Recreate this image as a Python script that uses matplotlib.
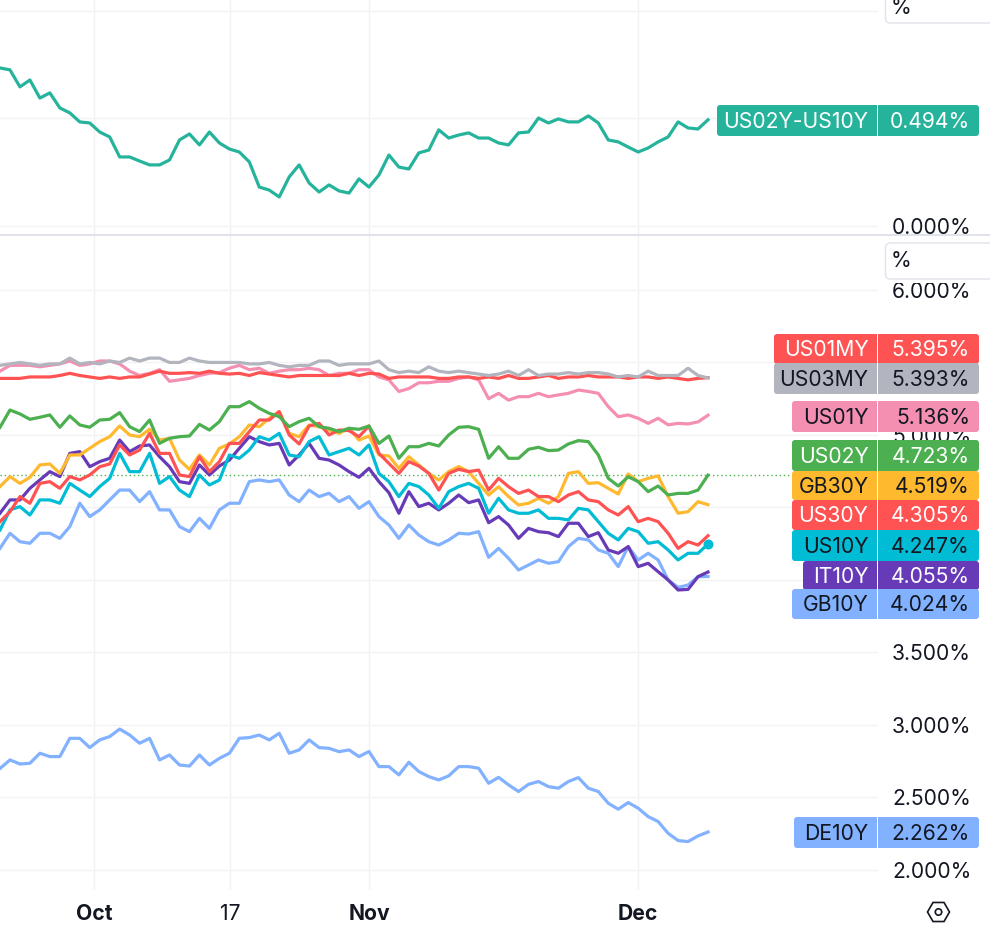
import numpy as np
import matplotlib
matplotlib.use("Agg")
import matplotlib.pyplot as plt
from matplotlib.patches import FancyBboxPatch, Rectangle, RegularPolygon, Circle

plt.rcParams['font.family'] = ['Inter', 'DejaVu Sans']

# Trading sessions since 2 Oct (0); samples run from mid-Sep to early Dec
first_session, last_session = -7.605, 49.676
tick_sessions = [0, 11, 22.25, 44]
tick_labels = ['Oct', '17', 'Nov', 'Dec']
tick_bold = [True, False, True, True]
top_ticks = [0.0, 0.5, 1.0]
top_shown = [0.0]
bottom_ticks = [2.0, 2.5, 3.0, 3.5, 4.0, 4.5, 5.0, 5.5, 6.0]
bottom_shown = [2.0, 2.5, 3.0, 3.5, 5.0, 6.0]   # the others sit behind price badges

SPREAD = [.735,.726,.647,.679,.595,.619,.549,.526,.484,.479,.437,.414,.321,.321,.302,.284,.284,.307,.400,.428,.377,.437,.386,.358,.344,.298,.181,.167,.135,.228,.284,.200,.158,.191,.163,.153,
          .219,.181,.237,.330,.274,.265,.340,.353,.447,.409,.423,.433,.409,.409,.386,.377,.433,.437,.502,.479,.498,.484,.484,.512,.479,.400,.391,.367,.344,.363,.391,.414,.484,.456,.451,.494]

US03MY = [5.48,5.49,5.50,5.49,5.48,5.49,5.49,5.53,5.49,5.50,5.49,5.51,5.50,5.53,5.51,5.53,5.53,5.50,5.50,5.53,5.51,5.50,5.50,5.50,
          5.50,5.49,5.49,5.50,5.48,5.47,5.48,5.48,5.51,5.51,5.48,5.49,5.49,5.49,5.51,5.45,5.43,5.44,5.43,5.47,5.44,5.43,5.44,5.43,
          5.42,5.41,5.42,5.44,5.41,5.45,5.41,5.42,5.42,5.43,5.42,5.43,5.43,5.42,5.40,5.41,5.40,5.44,5.41,5.41,5.41,5.46,5.41,5.393]
US01MY = [5.39,5.39,5.39,5.40,5.40,5.40,5.41,5.425,5.41,5.40,5.39,5.40,5.39,5.40,5.40,5.42,5.44,5.425,5.425,5.43,5.425,5.44,5.425,5.42,
          5.425,5.41,5.43,5.42,5.41,5.40,5.41,5.41,5.41,5.41,5.41,5.425,5.41,5.425,5.42,5.39,5.40,5.40,5.40,5.40,5.39,5.39,5.40,5.40,
          5.39,5.40,5.39,5.41,5.39,5.39,5.40,5.41,5.39,5.40,5.40,5.41,5.40,5.40,5.40,5.39,5.40,5.40,5.39,5.40,5.39,5.38,5.39,5.395]
US01Y = [5.44,5.48,5.48,5.48,5.47,5.48,5.49,5.51,5.48,5.49,5.51,5.51,5.49,5.44,5.41,5.425,5.45,5.37,5.38,5.39,5.41,5.425,5.43,5.46,
         5.48,5.45,5.46,5.425,5.44,5.45,5.45,5.46,5.45,5.41,5.425,5.425,5.45,5.45,5.40,5.38,5.30,5.32,5.36,5.36,5.37,5.37,5.39,5.40,
         5.38,5.25,5.287,5.24,5.264,5.264,5.287,5.264,5.276,5.287,5.31,5.30,5.287,5.195,5.126,5.138,5.115,5.08,5.115,5.07,5.08,5.076,5.09,5.136]
US02Y = [5.053,5.172,5.145,5.108,5.122,5.138,5.053,5.131,5.069,5.053,5.103,5.108,5.154,5.057,5.023,5.103,4.942,4.977,4.988,4.993,5.073,5.034,5.092,5.195,
         5.195,5.23,5.184,5.149,5.126,5.057,5.092,5.115,5.057,5.046,5.023,5.046,5.039,5.062,4.942,4.993,4.839,4.919,4.919,4.942,4.924,5.0,5.053,5.057,
         5.039,4.839,4.919,4.839,4.839,4.901,4.915,4.892,4.896,4.938,4.961,4.954,4.862,4.701,4.648,4.712,4.678,4.609,4.648,4.586,4.597,4.597,4.62,4.723]
GB30Y = [4.644,4.713,4.666,4.708,4.793,4.80,4.735,4.862,4.862,4.908,4.954,4.988,5.062,5.0,4.988,5.039,4.965,4.977,4.827,4.763,4.862,4.793,4.908,4.938,
         4.988,5.069,5.057,5.115,5.161,5.011,4.988,5.069,5.057,5.034,5.011,5.046,4.965,4.993,4.862,4.855,4.77,4.85,4.793,4.735,4.689,4.747,4.782,4.747,
         4.666,4.586,4.643,4.575,4.517,4.529,4.563,4.529,4.575,4.735,4.747,4.666,4.671,4.632,4.593,4.731,4.678,4.701,4.717,4.575,4.46,4.471,4.54,4.519]
US30Y = [4.402,4.471,4.575,4.529,4.666,4.678,4.632,4.713,4.69,4.724,4.781,4.80,4.931,4.862,4.896,5.011,4.873,4.873,4.724,4.713,4.85,4.747,4.816,4.942,
         4.942,5.023,5.103,5.103,5.161,5.0,4.938,5.062,5.08,5.0,5.034,5.03,4.988,5.062,4.873,4.804,4.735,4.816,4.786,4.735,4.62,4.735,4.763,4.747,
         4.758,4.62,4.701,4.643,4.597,4.62,4.575,4.575,4.54,4.586,4.609,4.552,4.54,4.483,4.448,4.506,4.402,4.425,4.402,4.322,4.218,4.264,4.241,4.305]
US10Y = [4.345,4.483,4.506,4.448,4.552,4.552,4.529,4.666,4.62,4.575,4.644,4.701,4.873,4.747,4.747,4.873,4.666,4.713,4.62,4.575,4.724,4.655,4.689,4.862,
         4.839,4.896,4.988,4.965,5.011,4.862,4.85,4.954,4.988,4.862,4.885,4.908,4.862,4.931,4.735,4.678,4.575,4.666,4.644,4.586,4.494,4.609,4.644,4.666,
         4.632,4.46,4.563,4.483,4.46,4.46,4.483,4.425,4.425,4.414,4.494,4.483,4.402,4.322,4.276,4.356,4.333,4.253,4.264,4.207,4.138,4.184,4.184,4.247]
IT10Y = [4.46,4.552,4.552,4.632,4.69,4.747,4.713,4.873,4.885,4.781,4.816,4.839,4.965,4.885,4.924,4.931,4.85,4.781,4.678,4.666,4.793,4.724,4.786,4.827,
         4.908,4.988,4.954,4.931,4.942,4.793,4.862,4.942,4.839,4.827,4.793,4.747,4.708,4.77,4.678,4.602,4.46,4.609,4.506,4.529,4.483,4.529,4.586,4.533,
         4.552,4.395,4.437,4.379,4.287,4.356,4.333,4.326,4.299,4.391,4.391,4.299,4.326,4.207,4.184,4.23,4.092,4.115,4.057,4.0,3.931,3.935,4.023,4.055]
GB10Y = [4.218,4.322,4.264,4.253,4.322,4.322,4.287,4.368,4.529,4.437,4.483,4.552,4.62,4.62,4.54,4.609,4.483,4.483,4.368,4.333,4.425,4.356,4.483,4.529,
         4.529,4.678,4.69,4.678,4.69,4.586,4.54,4.62,4.575,4.598,4.54,4.575,4.494,4.54,4.437,4.379,4.287,4.379,4.31,4.264,4.241,4.276,4.322,4.317,
         4.333,4.156,4.218,4.149,4.069,4.103,4.138,4.115,4.126,4.23,4.287,4.276,4.207,4.184,4.092,4.23,4.138,4.184,4.138,4.0,3.949,3.965,4.023,4.024]
DE10Y = [2.70,2.759,2.731,2.736,2.805,2.782,2.782,2.908,2.908,2.844,2.897,2.92,2.972,2.931,2.874,2.908,2.759,2.793,2.724,2.717,2.793,2.724,2.77,2.805,2.908,2.913,2.931,2.897,2.943,2.805,2.828,2.897,2.844,2.839,2.816,2.828,
         2.782,2.817,2.713,2.713,2.656,2.743,2.679,2.644,2.621,2.649,2.713,2.713,2.702,2.598,2.639,2.587,2.541,2.591,2.61,2.575,2.564,2.61,2.637,2.564,2.541,2.46,2.419,2.465,2.426,2.368,2.334,2.253,2.203,2.196,2.235,2.262]

TEAL = '#26B39B'; RED = '#FF5252'; GRAY = '#B2B5BE'; PINK = '#F48FB1'; GREEN = '#4CAF50'
YELLOW = '#FFB92F'; CYAN = '#00BCD4'; PURPLE = '#673AB7'; BLUE = '#82B1FF'
INK = '#131722'; GRID = '#F2F2F4'; EDGE = '#E0E3EB'

W, H = 990, 930
fig = plt.figure(figsize=(W / 100, H / 100), dpi=100, facecolor='white')

def pane(y0, y1):
    return fig.add_axes([0, 1 - y1 / H, 878 / W, (y1 - y0) / H])

ax_top = pane(0, 235)
ax_bot = pane(236, 890)
LABEL_SIZE = 15.2
LW = 2.3

def fmt(ticks, shown):
    return [f'{v:.3f}%' if v in shown else '' for v in ticks]

x = np.linspace(first_session, last_session, len(SPREAD))
for ax in (ax_top, ax_bot):
    ax.set_xlim(first_session, 63.43)
    for s in ax.spines.values():
        s.set_visible(False)
    ax.set_xticks(tick_sessions)
    ax.grid(True, color=GRID, lw=1)
    ax.set_axisbelow(True)
    ax.tick_params(length=0)
    ax.yaxis.tick_right()
    ax.tick_params(axis='y', pad=10, labelsize=LABEL_SIZE, labelcolor=INK)

ax_top.set_ylim(-0.042, 1.051)
ax_top.set_yticks(top_ticks, fmt(top_ticks, top_shown))
ax_top.tick_params(axis='x', labelbottom=False)
ax_top.plot(x, SPREAD, color=TEAL, lw=LW, solid_joinstyle='round')

ax_bot.set_ylim(1.862, 6.372)
ax_bot.set_yticks(bottom_ticks, fmt(bottom_ticks, bottom_shown))
ax_bot.set_xticks(tick_sessions, tick_labels)
ax_bot.tick_params(axis='x', pad=10, labelsize=LABEL_SIZE, labelcolor=INK)
for lab, bold in zip(ax_bot.get_xticklabels(), tick_bold):
    lab.set_fontweight('bold' if bold else 'normal')

ax_bot.plot([first_session, 63.43], [US02Y[-1]] * 2, color=GREEN, lw=1, ls=(0, (1, 2)), zorder=1.5)
for series, col in [(DE10Y, BLUE), (GB10Y, BLUE), (IT10Y, PURPLE), (GB30Y, YELLOW), (US10Y, CYAN),
                    (US30Y, RED), (US02Y, GREEN), (US01Y, PINK), (US01MY, RED), (US03MY, GRAY)]:
    ax_bot.plot(x, series, color=col, lw=LW, solid_joinstyle='round')
ax_bot.scatter([x[-1]], [US10Y[-1]], s=52, color=CYAN, zorder=5, linewidths=0)

# pixel-space overlay for the price badges and scale chrome
ov = fig.add_axes([0, 0, 1, 1], zorder=10)
ov.set_xlim(0, W); ov.set_ylim(H, 0); ov.axis('off'); ov.patch.set_alpha(0)

ov.add_patch(Rectangle((0, 234), W, 2, color=EDGE, lw=0))
ov.add_patch(Rectangle((884, 279), 106, 4, color='white', lw=0))
for top, bot in [(-10, 23), (243, 279)]:
    ov.add_patch(FancyBboxPatch((885.5 + 4, top + 4), 120, bot - top - 8,
                                boxstyle='round,pad=4,rounding_size=5', fc='white', ec=EDGE, lw=1))
ov.text(891, 7.5, '%', fontsize=LABEL_SIZE, color=INK, va='center', ha='left')
ov.text(891, 261, '%', fontsize=LABEL_SIZE, color=INK, va='center', ha='left')

badges = [('US01MY', US01MY, RED, 'white', 774, 334, 364),
          ('US03MY', US03MY, GRAY, INK, 774, 363, 394),
          ('US01Y', US01Y, PINK, INK, 792, 401, 432),
          ('US02Y', US02Y, GREEN, 'white', 792, 440, 471),
          ('GB30Y', GB30Y, YELLOW, INK, 792, 471, 500),
          ('US30Y', US30Y, RED, 'white', 792, 500, 530),
          ('US10Y', US10Y, CYAN, INK, 792, 530, 561),
          ('IT10Y', IT10Y, PURPLE, 'white', 803, 561, 590),
          ('GB10Y', GB10Y, BLUE, INK, 792, 589, 619),
          ('DE10Y', DE10Y, BLUE, INK, 794, 817, 848),
          ('US02Y-US10Y', SPREAD, TEAL, 'white', 717, 105, 136)]
for name, series, col, tc, left, top, bot in badges:
    r = 3
    ov.add_patch(FancyBboxPatch((left + r, top + r), 979 - left - 2 * r, bot - top - 2 * r,
                                boxstyle=f'round,pad={r},rounding_size={r}', fc=col, ec='none', lw=0))
    ov.add_patch(Rectangle((877, top), 1.2, bot - top, color='white', lw=0))
    ym = (top + bot) / 2 + 1
    ov.text(868.5, ym, name, color=tc, fontsize=LABEL_SIZE, ha='right', va='center')
    ov.text(970, ym, f'{series[-1]:.3f}%', color=tc, fontsize=LABEL_SIZE, ha='right', va='center')

ov.add_patch(RegularPolygon((938.5, 912), 6, radius=11, orientation=np.pi / 6, fc='white', ec=INK, lw=1.2))
ov.add_patch(Circle((938.5, 912), 3.2, fc='white', ec=INK, lw=1.2))

fig.savefig('out.png', dpi=100, facecolor='white')
